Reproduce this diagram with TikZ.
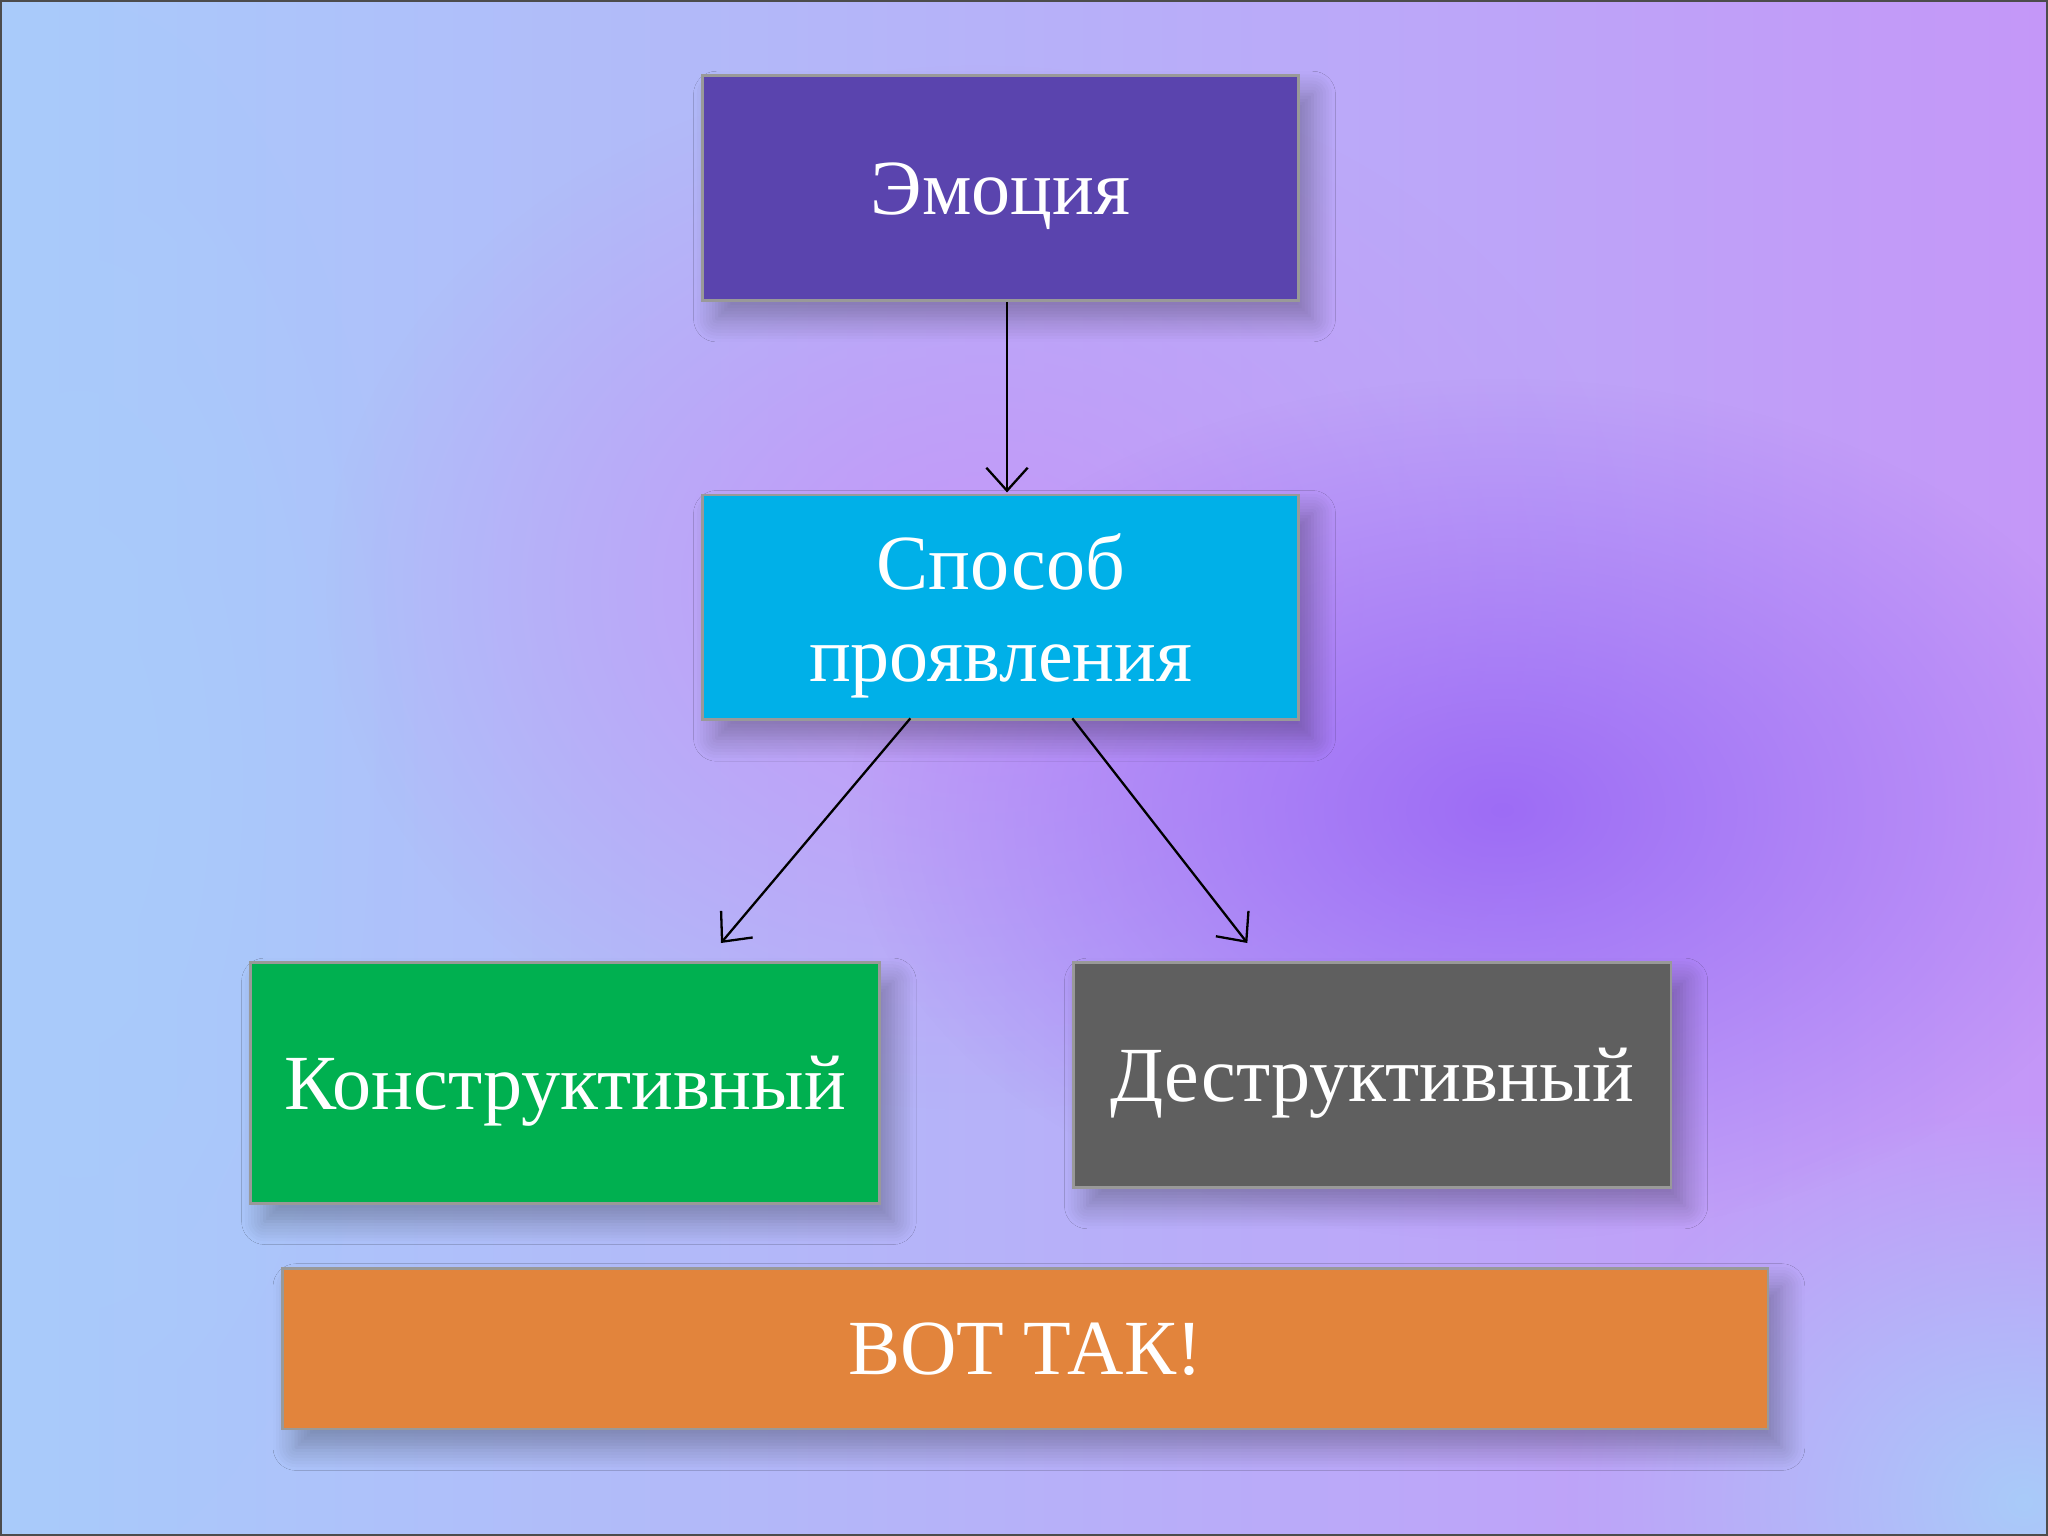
\documentclass[tikz,border=0pt]{standalone}
\usepackage{fontspec}
\setmainfont{Liberation Serif}
\usetikzlibrary{shadows.blur,arrows.meta,fadings}
\definecolor{bgA}{HTML}{A9CBFA}
\definecolor{bgB}{HTML}{C497F8}
\definecolor{bgC}{HTML}{9A66F5}
\definecolor{cEmo}{HTML}{5A44AE}
\definecolor{cSpo}{HTML}{00B0E8}
\definecolor{cKon}{HTML}{00B050}
\definecolor{cDes}{HTML}{5F5F5F}
\definecolor{cVot}{HTML}{E2843C}
\tikzfading[name=softfade, inner color=transparent!0, outer color=transparent!100]
\tikzset{
  box/.style={draw=black!40, line width=0.6pt, text=white, font=\fontsize{17}{20}\selectfont, align=center, inner sep=0pt, text depth=0pt, anchor=north west, blur shadow={shadow xshift=3pt, shadow yshift=-4pt, shadow blur radius=5pt, shadow blur steps=8, shadow opacity=30}},
  conn/.style={-{Straight Barb[length=5pt,width=9pt]}, line width=0.5pt}
}
\begin{document}
\begin{tikzpicture}[x=0.01cm,y=-0.01cm]
\useasboundingbox (0,0) rectangle (1568,1176);
\shade[left color=bgA, right color=bgB] (0,0) rectangle (1568,1176);
\fill[bgB, path fading=softfade] (750,450) ellipse (500 and 400);
\fill[bgC, path fading=softfade, opacity=0.9] (1150,620) ellipse (500 and 330);
\fill[bgA, path fading=softfade] (1550,1150) ellipse (350 and 300);
\fill[bgA, path fading=softfade] (60,600) ellipse (250 and 600);
\draw[black!70, line width=0.8pt] (0,0) rectangle (1568,1176);
\node[box, fill=cEmo, minimum width=4.56cm, minimum height=1.72cm] (emo) at (537,57) {Эмоция};
\node[box, fill=cSpo, minimum width=4.56cm, minimum height=1.72cm] (spo) at (537,378) {Способ\\проявления};
\node[box, fill=cKon, minimum width=4.81cm, minimum height=1.84cm] (kon) at (191,736) {Конструктивный};
\node[box, fill=cDes, minimum width=4.57cm, minimum height=1.72cm] (des) at (821,736) {Деструктивный};
\node[box, fill=cVot, minimum width=11.37cm, minimum height=1.23cm] (vot) at (215,970) {ВОТ ТАК!};
\coordinate (a1) at (771,377);
\coordinate (s1) at (697,550);
\coordinate (a2) at (552,722);
\coordinate (s2) at (821,550);
\coordinate (a3) at (955,722);
\draw[conn] (emo.south -| a1) -- (a1);
\draw[conn] (s1) -- (a2);
\draw[conn] (s2) -- (a3);
\end{tikzpicture}
\end{document}
